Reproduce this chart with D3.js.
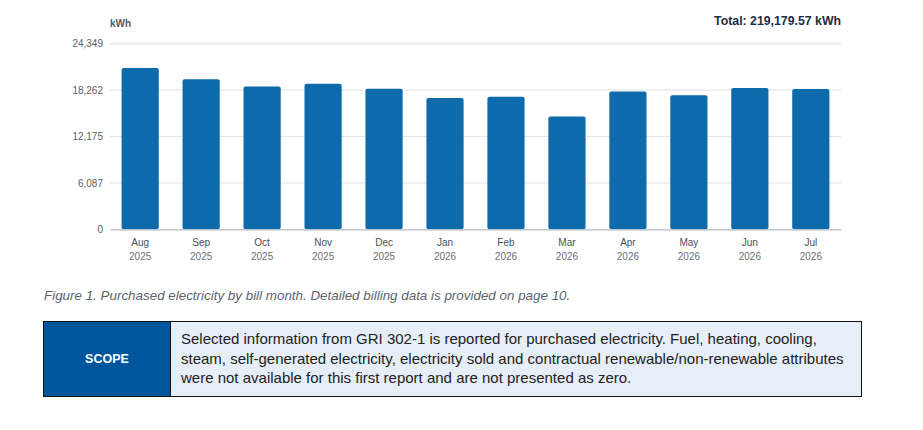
<html>
  <head>
    <meta http-equiv="content-type" content="text/html;charset=UTF-8">
    <title>Purchased electricity</title>
    <script src="https://d3js.org/d3.v7.min.js" charset="utf-8"></script>
    <style>
      body {
        margin: 0px;
        background: #ffffff;
        font-family: "Liberation Sans", Arial, sans-serif;
      }
      #chart {
        position: absolute;
        left: 0px;
        top: 0px;
      }
      .caption {
        position: absolute;
        left: 44px;
        top: 288px;
        font-size: 13.4px;
        font-style: italic;
        color: #5b6570;
      }
      .scope {
        position: absolute;
        left: 43px;
        top: 321px;
        width: 819px;
        height: 76px;
        border: 1px solid #111;
        display: flex;
        box-sizing: border-box;
      }
      .scope .head {
        width: 126px;
        background: #00569c;
        color: #fff;
        font-weight: bold;
        font-size: 12.5px;
        display: flex;
        align-items: center;
        justify-content: center;
        border-right: 1px solid #111;
      }
      .scope .body {
        flex: 1;
        background: #e6eef7;
        color: #222;
        font-size: 15px;
        line-height: 19.7px;
        padding: 7px 10px 0px 10px;
        white-space: nowrap;
      }
      .tick text { font-family: "Liberation Sans", Arial, sans-serif; }
    </style>
  </head>
  <body>
    <svg id="chart" width="923" height="280"></svg>
    <div class="caption" id="caption"></div>
    <div class="scope">
      <div class="head" id="scopehead"></div>
      <div class="body" id="scopebody"></div>
    </div>
    <script>
      // bill months
      var months = ["Aug","Sep","Oct","Nov","Dec","Jan","Feb","Mar","Apr","May","Jun","Jul"];
      var years  = ["2025","2025","2025","2025","2025","2026","2026","2026","2026","2026","2026","2026"];
      // kWh per bill month
      var kwh = [21173, 19680, 18750, 19100, 18450, 17225, 17397, 14799, 18080, 17590, 18538, 18407];
      var yTicks = [0, 6087, 12175, 18262, 24349];
      var yMax = 24349;
      var totalLabel = "Total: 219,179.57 kWh";
      var unitLabel = "kWh";
      var captionText = "Figure 1. Purchased electricity by bill month. Detailed billing data is provided on page 10.";
      var scopeLines = [
        "Selected information from GRI 302-1 is reported for purchased electricity. Fuel, heating, cooling,",
        "steam, self-generated electricity, electricity sold and contractual renewable/non-renewable attributes",
        "were not available for this first report and are not presented as zero."
      ];

      var plotLeft = 110, plotRight = 841, plotTop = 43.7, plotBottom = 229.3;
      var svg = d3.select("#chart");

      var x = d3.scaleBand()
        .domain(d3.range(months.length))
        .range([plotLeft, plotRight])
        .paddingInner(0.39)
        .paddingOuter(0.19);

      var y = d3.scaleLinear()
        .domain([0, yMax])
        .range([plotBottom, plotTop]);

      //gridlines
      svg.append("g")
        .selectAll("line")
        .data(yTicks.slice(1))
        .enter().append("line")
        .attr("x1", plotLeft).attr("x2", plotRight)
        .attr("y1", function(d){ return y(d); })
        .attr("y2", function(d){ return y(d); })
        .attr("stroke", "#e2e7ed")
        .attr("stroke-width", 1.2);

      // y axis labels
      var yAxis = d3.axisLeft(y)
        .tickValues(yTicks)
        .tickSize(0)
        .tickPadding(7)
        .tickFormat(d3.format(","));
      var yg = svg.append("g")
        .attr("transform", "translate(" + plotLeft + ",0)")
        .call(yAxis);
      yg.select(".domain").remove();
      yg.selectAll("text")
        .attr("fill", "#5a5f66")
        .attr("font-size", "10px");

      // bars
      svg.append("g")
        .selectAll("rect")
        .data(kwh)
        .enter().append("rect")
        .attr("x", function(d, i){ return x(i); })
        .attr("width", x.bandwidth())
        .attr("y", function(d){ return y(d); })
        .attr("height", function(d){ return plotBottom - y(d); })
        .attr("rx", 2)
        .attr("fill", "#0d6aab");

      // x axis
      var xAxis = d3.axisBottom(x)
        .tickSize(0)
        .tickPadding(10)
        .tickFormat(function(i){ return months[i]; });
      var xg = svg.append("g")
        .attr("transform", "translate(0," + plotBottom + ")")
        .call(xAxis);
      xg.select(".domain")
        .attr("stroke", "#b3bac2")
        .attr("stroke-width", 1.2);
      xg.selectAll(".tick text")
        .attr("fill", "#4a4f55")
        .attr("font-size", "10px");
      xg.selectAll(".tick")
        .append("text")
        .attr("y", 30.5)
        .attr("fill", "#6a7078")
        .attr("font-size", "10px")
        .attr("text-anchor", "middle")
        .text(function(i){ return years[i]; });

      svg.append("text")
        .attr("x", plotLeft)
        .attr("y", 26.5)
        .attr("font-size", "10px")
        .attr("font-weight", "bold")
        .attr("fill", "#555b62")
        .text(unitLabel);

      svg.append("text")
        .attr("x", plotRight)
        .attr("y", 24.5)
        .attr("text-anchor", "end")
        .attr("font-size", "12.3px")
        .attr("font-weight", "bold")
        .attr("fill", "#1b2e45")
        .text(totalLabel);

      d3.select("#caption").text(captionText);
      d3.select("#scopehead").text("SCOPE");
      d3.select("#scopebody")
        .selectAll("div")
        .data(scopeLines)
        .enter().append("div")
        .text(function(d){ return d; });
    </script>
  </body>
</html>
